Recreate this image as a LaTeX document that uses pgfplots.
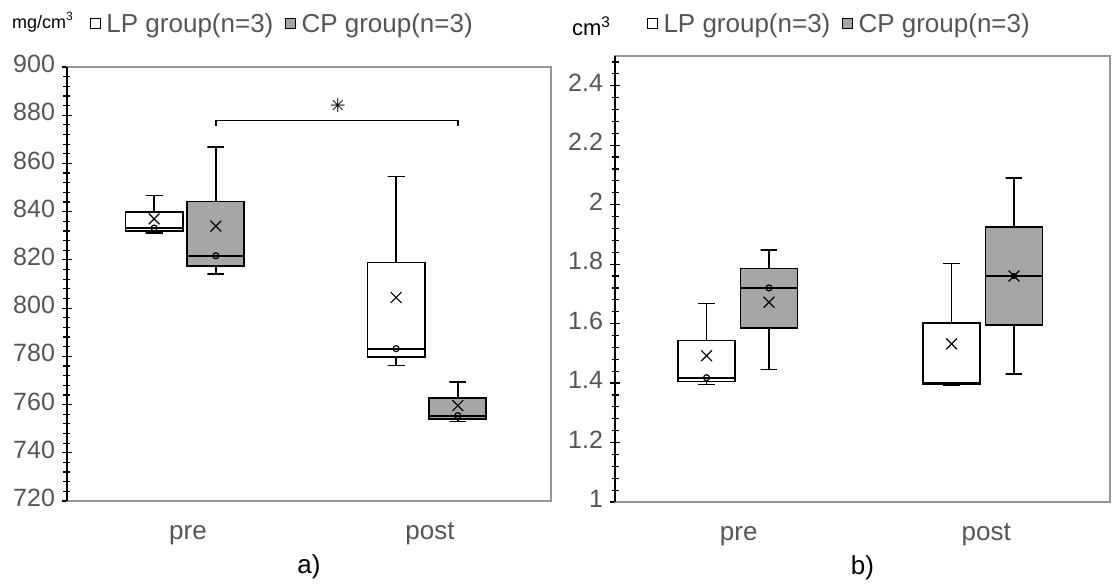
\documentclass[border=0pt]{standalone}
\usepackage{fontspec}
\setmainfont{Liberation Sans}
\newfontfamily\symfont{DejaVu Sans}
\usepackage{pgfplots}
\pgfplotsset{compat=1.18}

\definecolor{txtgray}{RGB}{85,85,85}
\definecolor{boxgray}{RGB}{166,166,166}
\definecolor{framegray}{RGB}{150,150,150}

\pgfplotsset{
  bp/.style={
    scale only axis,
    xmin=0.5, xmax=2.5,
    xtick={1,2}, xticklabels={pre,post},
    x tick style={draw=none},
    y tick label style={font=\fontsize{12.5}{14}\selectfont, text=txtgray},
    x tick label style={font=\fontsize{13}{15}\selectfont, text=txtgray, yshift=-2.5pt},
    typeset ticklabels with strut,
    /pgf/number format/assume math mode=true,
    axis line style={framegray, line width=0.6pt},
    ytick pos=left,
    tick align=center,
    major tick length=5pt,
    minor tick length=3.5pt,
    y tick style={black, line width=0.6pt},
    clip=false,
    xlabel style={font=\fontsize{13}{15}\selectfont, text=black, yshift=3.5pt},
    legend style={draw=none, fill=none, inner sep=0pt,
      font=\fontsize{13}{15}\selectfont, text=txtgray,
      legend columns=2,
      /tikz/every even column/.append style={column sep=4pt}},
    legend image code/.code={
      \path[##1, draw=black, line width=0.5pt] (0pt,-1.8pt) rectangle (5pt,3.2pt);
      \path[draw=none, fill=none] (0pt,0pt) -- (5.8pt,0pt);},
  },
  bxw/.style={forget plot, draw=black, line width=0.9pt, fill=white},
  bxg/.style={forget plot, draw=black, line width=0.9pt, fill=boxgray},
  wh/.style={forget plot, black, line width=0.7pt},
  mdl/.style={forget plot, black, line width=0.9pt},
  avg/.style={only marks, mark=x, mark size=3.8pt, forget plot,
    mark options={black, line width=0.6pt}},
  med/.style={only marks, mark=o, mark size=1.5pt, forget plot,
    mark options={fill=white, draw=black, line width=0.6pt}},
}

\begin{document}
\begin{tikzpicture}
\path (-33.5pt,-39.5pt) rectangle (522.5pt,250.5pt);

% a) density: boxes at x = pos +- 0.118, whisker caps +- 0.035
\begin{axis}[bp,
  width=242pt, height=217pt,
  ymin=720, ymax=900,
  ytick={720,740,...,900},
  minor y tick num=4,
  xlabel={a)},
  legend style={at={(axis description cs:0,1)}, anchor=west, xshift=11.5pt, yshift=21pt},
]
% whiskers (stem + cap)
\addplot[wh] coordinates {(0.86,840)(0.86,846.7) (0.825,846.7)(0.895,846.7)};
\addplot[wh] coordinates {(0.86,832.1)(0.86,831.2) (0.825,831.2)(0.895,831.2)};
\addplot[wh] coordinates {(1.115,844.2)(1.115,866.8) (1.08,866.8)(1.15,866.8)};
\addplot[wh] coordinates {(1.115,817.6)(1.115,814.2) (1.08,814.2)(1.15,814.2)};
\addplot[wh] coordinates {(1.86,818.9)(1.86,854.5) (1.825,854.5)(1.895,854.5)};
\addplot[wh] coordinates {(1.86,779.6)(1.86,776.2) (1.825,776.2)(1.895,776.2)};
\addplot[wh] coordinates {(2.115,762.6)(2.115,769.4) (2.08,769.4)(2.15,769.4)};
\addplot[wh] coordinates {(2.115,754.0)(2.115,752.9) (2.08,752.9)(2.15,752.9)};
% boxes (lower quartile to upper quartile)
\addplot[bxw] coordinates {(0.742,832.1)(0.978,832.1)(0.978,840)(0.742,840)} --cycle;
\addplot[bxg] coordinates {(0.997,817.6)(1.233,817.6)(1.233,844.2)(0.997,844.2)} --cycle;
\addplot[bxw] coordinates {(1.742,779.6)(1.978,779.6)(1.978,818.9)(1.742,818.9)} --cycle;
\addplot[bxg] coordinates {(1.997,754.0)(2.233,754.0)(2.233,762.6)(1.997,762.6)} --cycle;
% median lines
\addplot[mdl] coordinates {(0.742,833.2)(0.978,833.2)};
\addplot[mdl] coordinates {(0.997,821.7)(1.233,821.7)};
\addplot[mdl] coordinates {(1.742,783.2)(1.978,783.2)};
\addplot[mdl] coordinates {(1.997,755.4)(2.233,755.4)};
% means
\addplot[avg] coordinates {(0.86,837)(1.115,834)(1.86,804.4)(2.115,759.6)};
% medians
\addplot[med] coordinates {(0.86,833.2)(1.115,821.7)(1.86,783.2)(2.115,755.4)};
% significance bracket
\addplot[black, line width=0.7pt, forget plot]
  coordinates {(1.115,875.5)(1.115,877.8)(2.115,877.8)(2.115,875.5)};
\node[font=\symfont\fontsize{9.5}{10}\selectfont, text=black] at (axis cs:1.619,884) {✳};
\draw[black, line width=1.1pt] (rel axis cs:0,0) -- (rel axis cs:0,1);
\node[font=\fontsize{9}{11}\selectfont, text=black, xshift=-12pt, yshift=22.5pt]
  at (axis description cs:0,1) {mg/cm\textsuperscript{3}};
\addlegendimage{fill=white}
\addlegendentry{LP group(n=3)}
\addlegendimage{fill=boxgray}
\addlegendentry{CP group(n=3)}
\end{axis}

% b) volume
\begin{axis}[bp,
  at={(274pt,-0.5pt)},
  width=247.5pt, height=223pt,
  ymin=1, ymax=2.5,
  ytick={1,1.2,1.4,1.6,1.8,2,2.2,2.4},
  minor ytick={1.04,1.08,1.12,1.16,1.24,1.28,1.32,1.36,1.44,1.48,1.52,1.56,
    1.64,1.68,1.72,1.76,1.84,1.88,1.92,1.96,2.04,2.08,2.12,2.16,
    2.24,2.28,2.32,2.36,2.44,2.48},
  xlabel={b)},
  legend style={at={(axis description cs:0,1)}, anchor=west, xshift=16pt, yshift=15.5pt},
]
\addplot[wh] coordinates {(0.87,1.543)(0.87,1.667) (0.836,1.667)(0.904,1.667)};
\addplot[wh] coordinates {(0.87,1.405)(0.87,1.395) (0.836,1.395)(0.904,1.395)};
\addplot[wh] coordinates {(1.122,1.785)(1.122,1.848) (1.088,1.848)(1.156,1.848)};
\addplot[wh] coordinates {(1.122,1.585)(1.122,1.445) (1.088,1.445)(1.156,1.445)};
\addplot[wh] coordinates {(1.86,1.603)(1.86,1.803) (1.826,1.803)(1.894,1.803)};
\addplot[wh] coordinates {(1.86,1.397)(1.86,1.392) (1.826,1.392)(1.894,1.392)};
\addplot[wh] coordinates {(2.112,1.925)(2.112,2.09) (2.078,2.09)(2.146,2.09)};
\addplot[wh] coordinates {(2.112,1.595)(2.112,1.43) (2.078,1.43)(2.146,1.43)};
\addplot[bxw] coordinates {(0.755,1.405)(0.985,1.405)(0.985,1.543)(0.755,1.543)} --cycle;
\addplot[bxg] coordinates {(1.007,1.585)(1.237,1.585)(1.237,1.785)(1.007,1.785)} --cycle;
\addplot[bxw] coordinates {(1.745,1.397)(1.975,1.397)(1.975,1.603)(1.745,1.603)} --cycle;
\addplot[bxg] coordinates {(1.997,1.595)(2.227,1.595)(2.227,1.925)(1.997,1.925)} --cycle;
\addplot[mdl] coordinates {(0.755,1.418)(0.985,1.418)};
\addplot[mdl] coordinates {(1.007,1.72)(1.237,1.72)};
\addplot[mdl] coordinates {(1.745,1.40)(1.975,1.40)};
\addplot[mdl] coordinates {(1.997,1.76)(2.227,1.76)};
\addplot[avg] coordinates {(0.87,1.492)(1.122,1.672)(1.86,1.532)(2.112,1.76)};
\addplot[med] coordinates {(0.87,1.418)(1.122,1.72)};
\addplot[only marks, mark=*, mark size=1.3pt, forget plot, mark options={black}]
  coordinates {(2.112,1.76)};
\draw[black, line width=1.1pt] (rel axis cs:0,0) -- (rel axis cs:0,1);
\node[font=\fontsize{11}{13}\selectfont, text=black, xshift=-11.75pt, yshift=15pt]
  at (axis description cs:0,1) {cm\textsuperscript{3}};
\addlegendimage{fill=white}
\addlegendentry{LP group(n=3)}
\addlegendimage{fill=boxgray}
\addlegendentry{CP group(n=3)}
\end{axis}
\end{tikzpicture}
\end{document}
